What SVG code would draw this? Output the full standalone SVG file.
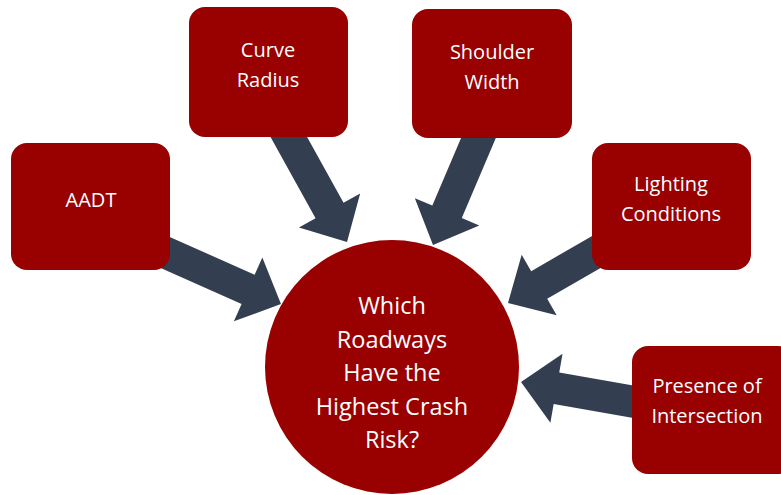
<svg xmlns="http://www.w3.org/2000/svg" width="781" height="495" viewBox="0 0 781 495">
<style>
.box{fill:#990000;}
.arrow{fill:#333f50;}
.t{font-family:"Open Sans","Noto Sans","Liberation Sans",sans-serif;fill:#ffffff;text-anchor:middle;font-size:20px;font-weight:500;}
.ct{font-size:23.5px;}
</style>
<defs>
<polygon id="arr" points="-140,-16 -36,-16 -36,-35 0,0 -36,35 -36,16 -140,16"/>
</defs>
<rect width="781" height="495" fill="#ffffff"/>
<g id="connectors">
<use href="#arr" class="arrow" transform="translate(281,304) rotate(24)"/>
<use href="#arr" class="arrow" transform="translate(347,242) rotate(61)"/>
<use href="#arr" class="arrow" transform="translate(433,245) rotate(113)"/>
<use href="#arr" class="arrow" transform="translate(508,303) rotate(150)"/>
<use href="#arr" class="arrow" transform="translate(521,382) rotate(190)"/>
</g>
<g id="node-aadt">
<rect class="box" x="11" y="143" width="159" height="127" rx="16"/>
<text class="t" x="91" y="207">AADT</text>
</g>
<g id="node-curve">
<rect class="box" x="189" y="7" width="159" height="130" rx="16"/>
<text class="t" x="268" y="57">Curve</text>
<text class="t" x="268" y="87">Radius</text>
</g>
<g id="node-shoulder">
<rect class="box" x="412" y="9" width="160" height="129" rx="16"/>
<text class="t" x="492" y="59">Shoulder</text>
<text class="t" x="492" y="89">Width</text>
</g>
<g id="node-lighting">
<rect class="box" x="592" y="143" width="159" height="127" rx="16"/>
<text class="t" x="671" y="191">Lighting</text>
<text class="t" x="671" y="221">Conditions</text>
</g>
<g id="node-presence">
<rect class="box" x="632" y="346" width="162" height="128" rx="16"/>
<text class="t" x="707" y="393">Presence of</text>
<text class="t" x="707" y="423">Intersection</text>
</g>
<g id="node-center">
<circle class="box" cx="392" cy="367" r="127"/>
<text class="t ct" x="392" y="314">Which</text>
<text class="t ct" x="392" y="348">Roadways</text>
<text class="t ct" x="392" y="381">Have the</text>
<text class="t ct" x="392" y="415">Highest Crash</text>
<text class="t ct" x="392" y="448">Risk?</text>
</g>
</svg>
